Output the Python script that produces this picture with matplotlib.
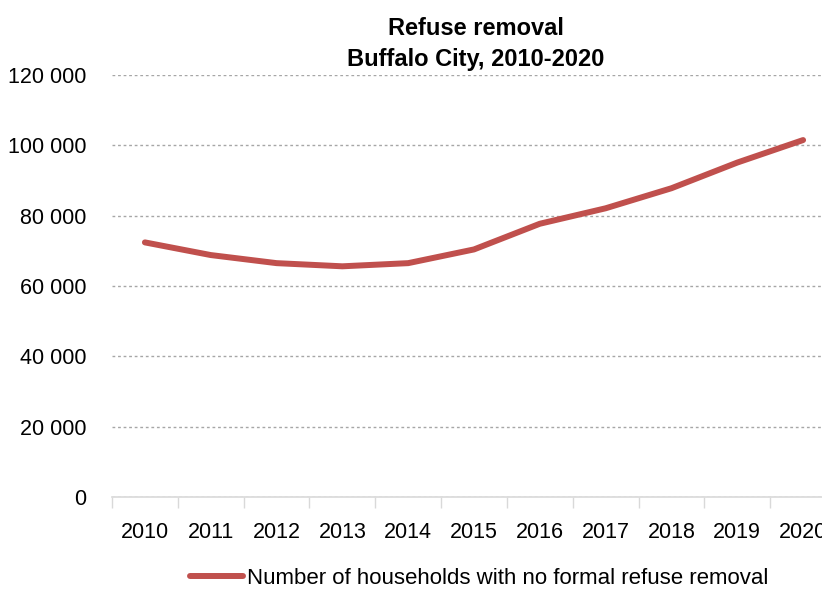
import matplotlib
matplotlib.use("Agg")
import matplotlib.pyplot as plt
from matplotlib.ticker import FixedLocator, FuncFormatter

years = ["2010", "2011", "2012", "2013", "2014", "2015", "2016", "2017", "2018", "2019", "2020"]
households = [72400, 68800, 66500, 65600, 66500, 70400, 77700, 82100, 87800, 95100, 101500]
y_ticks = [0, 20000, 40000, 60000, 80000, 100000, 120000]

plt.rcParams["font.family"] = ["Liberation Sans", "DejaVu Sans"]

fig = plt.figure(figsize=(8.22, 5.92), dpi=100)
ax = fig.add_axes([112 / 822, 1 - 497 / 592, 724 / 822, 422 / 592])

x = list(range(len(years)))
line, = ax.plot(x, households, color="#C0504D", linewidth=4.3, solid_capstyle="round",
                solid_joinstyle="round", label="Number of households with no formal refuse removal")

ax.set_xlim(-0.5, len(years) - 0.5)
ax.set_ylim(0, 120000)
ax.yaxis.set_major_locator(FixedLocator(y_ticks))
ax.yaxis.set_major_formatter(FuncFormatter(lambda v, p: f"{int(v):,}".replace(",", " ")))
ax.grid(axis="y", color="#A6A6A6", linestyle=(0, (2, 2)), linewidth=1.0)
ax.set_axisbelow(True)

ax.set_xticks(x)
ax.set_xticklabels(years)
ax.set_xticks([i - 0.5 for i in range(len(years) + 1)], minor=True)
ax.tick_params(axis="x", which="major", length=0, pad=18, labelsize=15.5)
ax.tick_params(axis="x", which="minor", length=8, color="#D9D9D9", width=1)
ax.tick_params(axis="y", length=0, pad=18.5, labelsize=15.5)

for s in ["top", "right", "left"]:
    ax.spines[s].set_visible(False)
ax.spines["bottom"].set_color("#D9D9D9")
ax.spines["bottom"].set_linewidth(1.2)

fig.text(476 / 822, 1 - 35 / 592, "Refuse removal", ha="center", va="baseline",
         fontsize=17, fontweight="bold")
fig.text(476 / 822, 1 - 66 / 592, "Buffalo City, 2010-2020", ha="center", va="baseline",
         fontsize=17, fontweight="bold")

fig.legend(handles=[line], loc="center", bbox_to_anchor=(479 / 822, 1 - 578 / 592),
           frameon=False, fontsize=16, handlelength=2.4, handletextpad=0.15)

fig.savefig("out.png", dpi=100)
